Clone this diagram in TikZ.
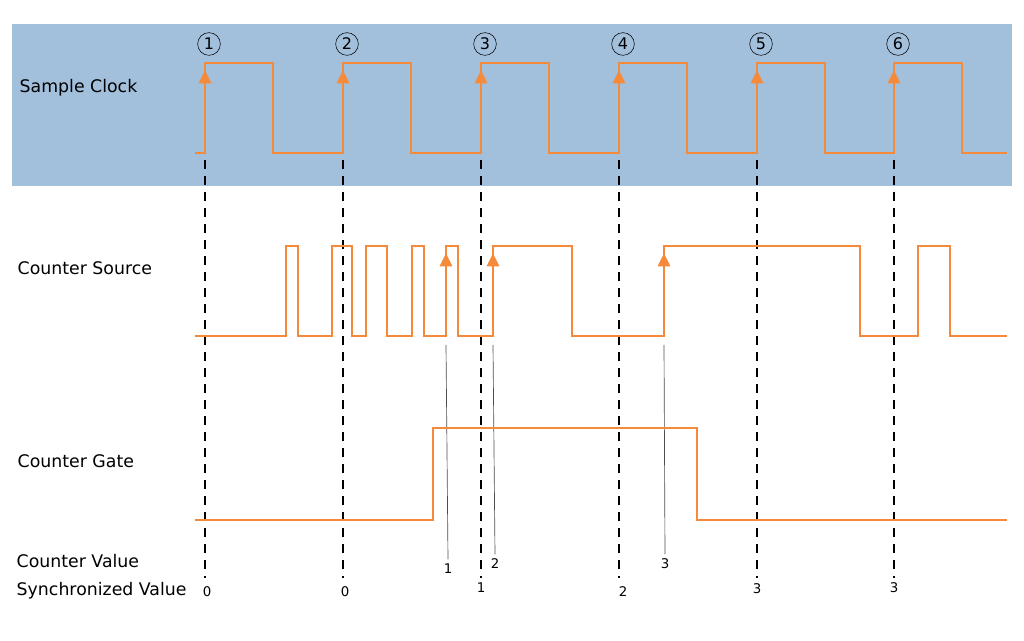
\documentclass[tikz,border=0pt]{standalone}
\usepackage{fontspec}
\setmainfont{DejaVu Sans}
\usetikzlibrary{arrows.meta, positioning}
\definecolor{sigorange}{HTML}{F58B3A}
\definecolor{bandblue}{HTML}{A2BFDC}
\tikzset{
    signal/.style={draw=sigorange, line width=2.2pt},
    edge/.style={sigorange, line width=2.2pt, -{Triangle[width=9pt,length=10pt]}},
    sample/.style={dashed, line width=0.9pt, dash pattern=on 7pt off 5pt},
    tick/.style={line width=0.5pt, black!70},
    label/.style={anchor=west, font=\fontsize{13}{15}\selectfont},
    value/.style={font=\fontsize{10}{12}\selectfont},
}
\begin{document}
\begin{tikzpicture}[x=0.75pt, y=-0.75pt]
    \useasboundingbox (0,0) rectangle (1024,641);
    \fill[bandblue] (12,24) rectangle (1012,186);

    \node[label] (Clock)  at (15,88)  {Sample Clock};
    \node[label] (Source) at (13,268) {Counter Source};
    \node[label] (Gate)   at (13,461) {Counter Gate};
    \node[label] (Value)  at (12,561) {Counter Value};
    \node[label] (Sync)   at (12,591) {Synchronized Value};

    % sample clock
    \draw[signal] (195,153) -- (205,153)
        \foreach \x in {205,343,481,619,757,894} {
            -- (\x,153) -- (\x,63) -- (\x+68,63) -- (\x+68,153)
        } -- (1007,153);
    \foreach \x/\n in {205/1,343/2,481/3,619/4,757/5,894/6} {
        \node[circle, draw, inner sep=1pt, minimum size=17pt,
              font=\fontsize{12}{14}\selectfont] (Tick \n) at (\x+4,44) {\n};
        \draw[edge] (\x,153) -- (\x,70);
        \coordinate (Top \n) at (\x,160);
        \coordinate (Bottom \n) at (\x,578);
        \draw[sample] (Top \n) -- (Bottom \n);
    }

    % counter source
    \draw[signal] (195,336)
        \foreach \r/\f in {286/298,332/352,366/387,412/424,446/458,493/572,664/860,918/950} {
            -- (\r,336) -- (\r,246) -- (\f,246) -- (\f,336)
        } -- (1007,336);
    \foreach \x/\n in {446/1,493/2,664/3} {
        \draw[edge] (\x,336) -- (\x,253);
        \coordinate (Count \n) at (\x,345);
    }
    \node[value] (Count Value 1) at (448,569) {1};
    \node[value] (Count Value 2) at (495,564) {2};
    \node[value] (Count Value 3) at (665,564) {3};
    \draw[tick] (Count 1) -- (Count Value 1.north);
    \draw[tick] (Count 2) -- (Count Value 2.north);
    \draw[tick] (Count 3) -- (Count Value 3.north);

    % counter gate
    \draw[signal] (195,520) -- (433,520) -- (433,428) -- (697,428)
        -- (697,520) -- (1007,520);

    % synchronized values
    \foreach \x/\y/\v [count=\i] in {207/592/0,345/592/0,481/588/1,623/592/2,757/589/3,894/588/3} {
        \node[value] (Sync Value \i) at (\x,\y) {\v};
    }
\end{tikzpicture}
\end{document}
